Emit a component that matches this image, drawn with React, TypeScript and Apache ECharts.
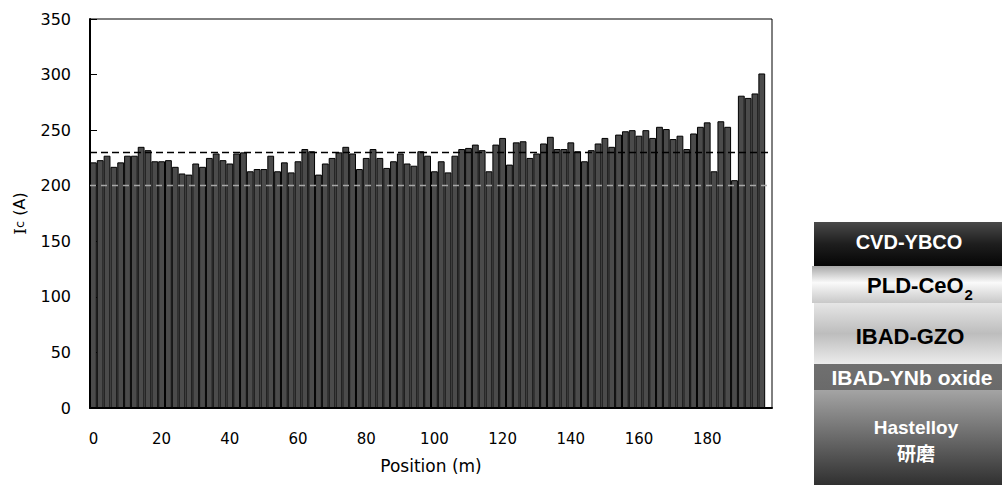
import React, { useEffect, useRef } from "react";
import * as echarts from "echarts";

// Position (m) categories: 0, 2, 4, ..., 198
const positions: number[] = [];
for (let p = 0; p <= 198; p += 2) positions.push(p);

// Critical current Ic (A) per 2 m segment
const icValues: (number | null)[] = [
  221, 223, 227, 217, 221, 227, 227, 235, 232, 222,
  222, 223, 217, 211, 210, 220, 217, 225, 229, 223,
  220, 229, 230, 213, 215, 215, 227, 213, 221, 212,
  222, 233, 231, 210, 220, 225, 230, 235, 229, 215,
  225, 233, 225, 216, 222, 229, 220, 218, 231, 227,
  213, 222, 212, 227, 233, 234, 237, 232, 213, 237,
  243, 219, 239, 240, 225, 229, 238, 244, 233, 233,
  239, 231, 222, 232, 238, 243, 235, 246, 249, 250,
  245, 250, 243, 253, 251, 242, 245, 233, 247, 253,
  257, 213, 258, 253, 205, 281, 279, 283, 301, null,
];

const yTicks = { min: 0, max: 350, interval: 50 };
const refLines = { target: 230, spec: 200 };

const layers = [
  { name: "CVD-YBCO", top: 222, bottom: 266, x0: 814 },
  { name: "PLD-CeO2", top: 266, bottom: 303, x0: 812 },
  { name: "IBAD-GZO", top: 303, bottom: 364, x0: 814 },
  { name: "IBAD-YNb oxide", top: 364, bottom: 390, x0: 814 },
  { name: "Hastelloy\n研磨", top: 390, bottom: 485, x0: 814 },
];

const grad = (stops: [number, string][]) => ({
  type: "linear",
  x: 0,
  y: 0,
  x2: 0,
  y2: 1,
  colorStops: stops.map(([offset, color]) => ({ offset, color })),
});

const layerFills = [
  grad([[0, "#4a4a4a"], [0.5, "#1e1e1e"], [1, "#050505"]]),
  grad([[0, "#a8a8a8"], [0.45, "#fafafa"], [1, "#c8c8c8"]]),
  grad([[0, "#e6e6e6"], [0.5, "#bdbdbd"], [1, "#ececec"]]),
  grad([[0, "#707070"], [1, "#6a6a6a"]]),
  grad([[0, "#a4a4a4"], [1, "#303030"]]),
];

const LAYER_FONT = '"Liberation Sans", Arial, sans-serif';

export default function App() {
  const ref = useRef<HTMLDivElement>(null);
  useEffect(() => {
    if (!ref.current) return;
    const chart = echarts.init(ref.current, undefined, { renderer: "svg" });

    const graphics: any[] = [];
    layers.forEach((l, i) => {
      graphics.push({
        type: "rect",
        shape: { x: l.x0, y: l.top, width: 1002 - l.x0, height: l.bottom - l.top },
        style: { fill: layerFills[i] },
        silent: true,
      });
    });
    const cx = 909;
    graphics.push({
      type: "text",
      x: cx,
      y: 242,
      style: { text: "CVD-YBCO", fill: "#fff", font: `bold 20px ${LAYER_FONT}`, textAlign: "center", textVerticalAlign: "middle" },
    });
    graphics.push({
      type: "text",
      x: cx + 11,
      y: 286,
      style: {
        text: "{a|PLD-CeO}{b|2}",
        textAlign: "center",
        textVerticalAlign: "middle",
        rich: {
          a: { fontFamily: LAYER_FONT, fontWeight: "bold", fontSize: 22, fill: "#000", lineHeight: 24, verticalAlign: "top" },
          b: { fontFamily: LAYER_FONT, fontWeight: "bold", fontSize: 15, fill: "#000", lineHeight: 15, padding: [13, 0, 0, 1], verticalAlign: "top" },
        },
      },
    });
    graphics.push({
      type: "text",
      x: cx + 1,
      y: 336,
      style: { text: "IBAD-GZO", fill: "#000", font: `bold 22px ${LAYER_FONT}`, textAlign: "center", textVerticalAlign: "middle" },
    });
    graphics.push({
      type: "text",
      x: cx + 3,
      y: 377,
      style: { text: "IBAD-YNb oxide", fill: "#fff", font: `bold 21px ${LAYER_FONT}`, textAlign: "center", textVerticalAlign: "middle" },
    });
    graphics.push({
      type: "text",
      x: cx + 7,
      y: 427,
      style: { text: "Hastelloy", fill: "#fff", font: `bold 19px ${LAYER_FONT}`, textAlign: "center", textVerticalAlign: "middle" },
    });
    graphics.push({
      type: "text",
      x: cx + 7,
      y: 452,
      style: { text: "研磨", fill: "#fff", font: 'bold 19px "Noto Sans CJK JP", sans-serif', textAlign: "center", textVerticalAlign: "middle" },
    });

    chart.setOption({
      animation: false,
      backgroundColor: "#fff",
      grid: {
        left: 90,
        right: 230,
        top: 19,
        bottom: 77,
        show: true,
        borderColor: "#000",
        borderWidth: 1,
        backgroundColor: "transparent",
      },
      xAxis: {
        type: "category",
        data: positions.map(String),
        name: "Position (m)",
        nameLocation: "middle",
        nameGap: 49,
        nameTextStyle: { fontFamily: "DejaVu Sans", fontSize: 17, color: "#000" },
        axisLine: { show: true, lineStyle: { color: "#000", width: 2 } },
        axisTick: { show: false },
        axisLabel: {
          interval: (i: number) => i % 10 === 0,
          margin: 23,
          fontFamily: "DejaVu Sans",
          fontSize: 15,
          color: "#000",
        },
        splitLine: { show: false },
      },
      yAxis: {
        type: "value",
        min: yTicks.min,
        max: yTicks.max,
        interval: yTicks.interval,
        name: "{i|I}{c|c}{t| (A)}",
        nameLocation: "middle",
        nameGap: 62,
        nameRotate: 90,
        nameTextStyle: {
          color: "#000",
          rich: {
            i: { fontFamily: "DejaVu Serif", fontSize: 17, color: "#000" },
            c: { fontFamily: "DejaVu Sans", fontSize: 13, color: "#000" },
            t: { fontFamily: "DejaVu Sans", fontSize: 16, color: "#000" },
          },
        },
        axisLine: { show: true, lineStyle: { color: "#000", width: 2 } },
        axisTick: { show: true, inside: true, length: 7, lineStyle: { color: "#000", width: 1 } },
        axisLabel: { margin: 19, fontFamily: "DejaVu Sans", fontSize: 16, color: "#000" },
        splitLine: { show: false },
      },
      series: [
        {
          type: "bar",
          data: icValues,
          barCategoryGap: "0%",
          itemStyle: { color: "#4b4b4b", borderColor: "#000", borderWidth: 1 },
          silent: true,
          markLine: {
            silent: true,
            symbol: "none",
            label: { show: false },
            data: [
              { yAxis: refLines.target, lineStyle: { color: "#000", type: [7, 4], width: 1.3 } },
              { yAxis: refLines.spec, lineStyle: { color: "#a8a8a8", type: [6, 5], width: 1.3 } },
            ],
          },
        },
      ],
      graphic: graphics,
    });
    return () => chart.dispose();
  }, []);
  return (
    <div
      ref={ref}
      style={{ position: "fixed", left: 0, top: 0, width: 1002, height: 485 }}
    />
  );
}
